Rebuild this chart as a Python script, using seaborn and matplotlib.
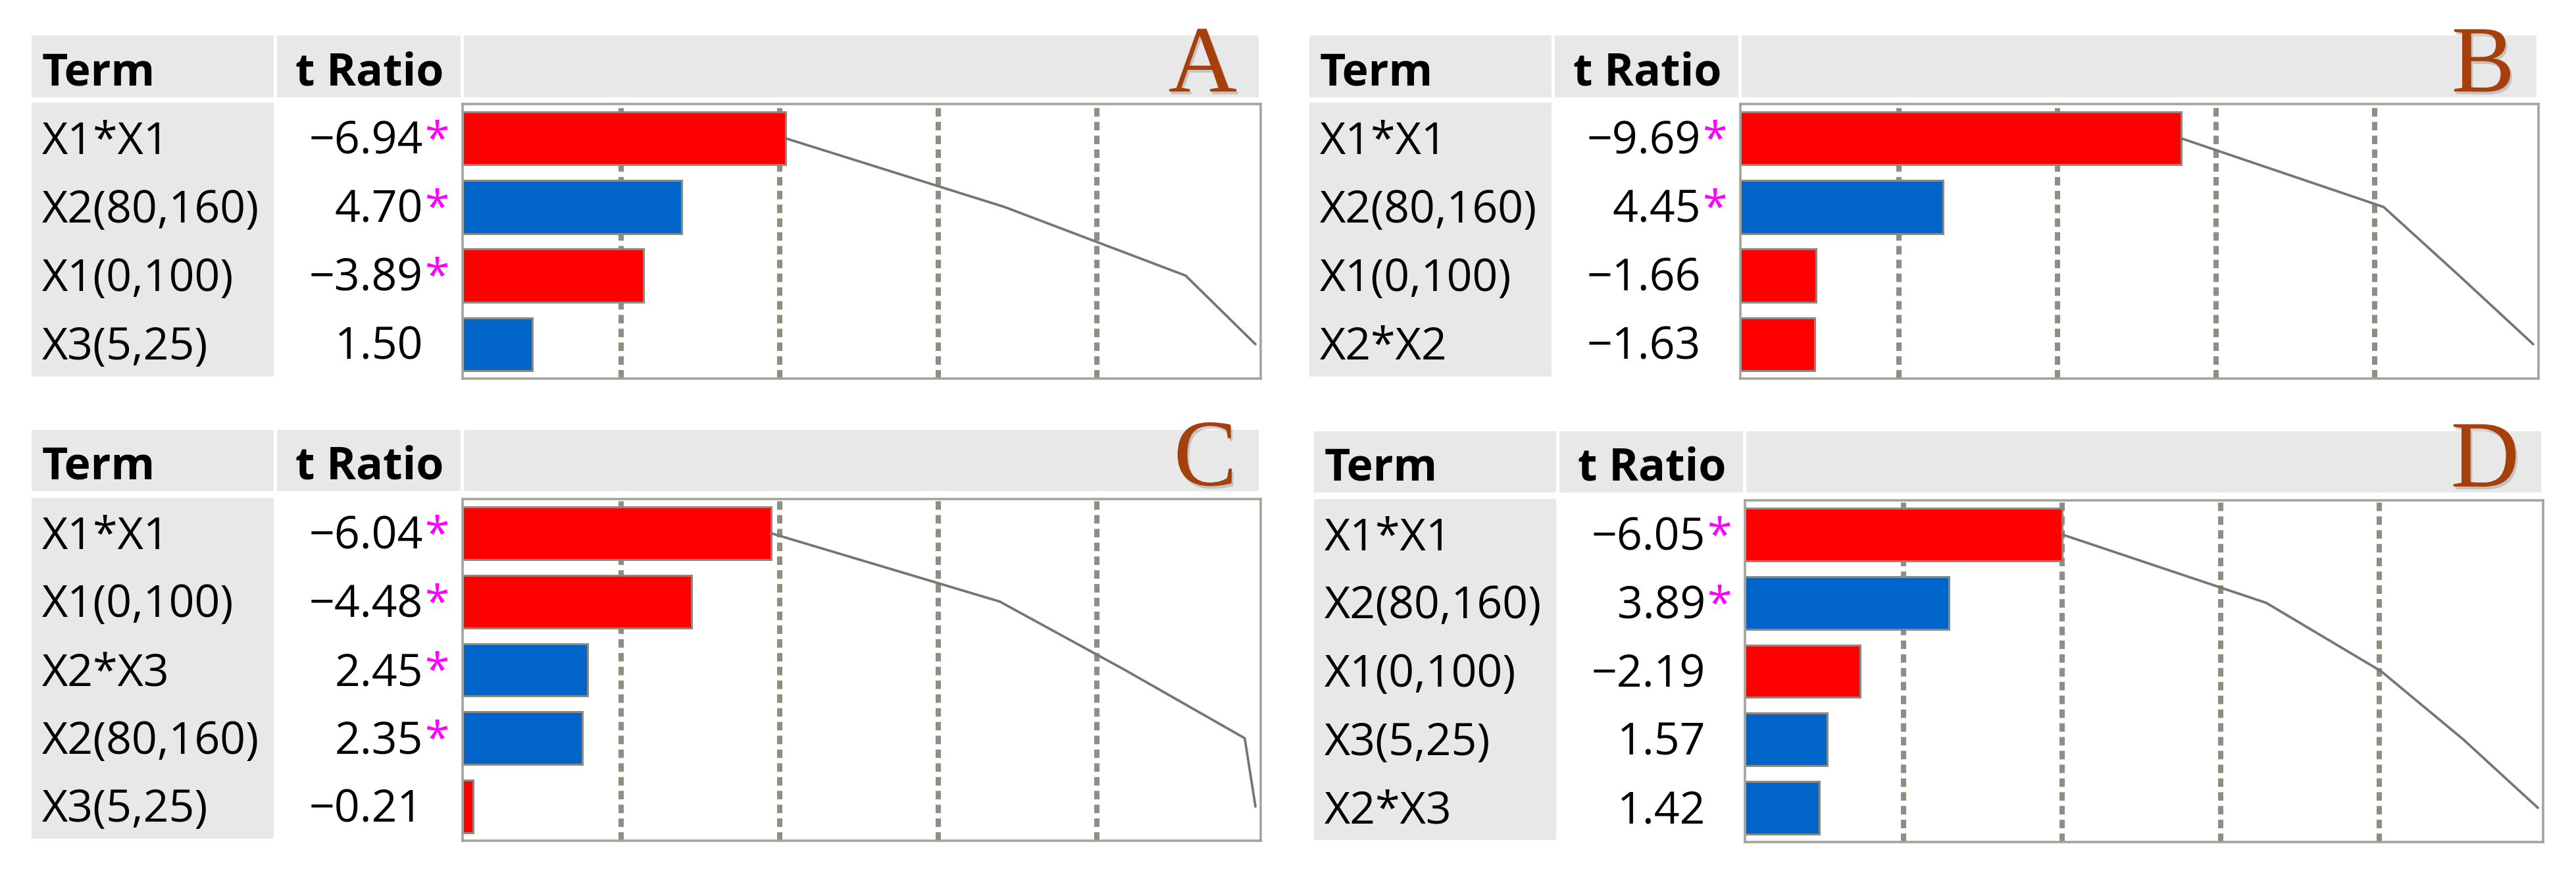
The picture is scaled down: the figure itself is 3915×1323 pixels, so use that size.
import numpy as np
import pandas as pd
import matplotlib
matplotlib.use("Agg")
import matplotlib.pyplot as plt
import matplotlib.patheffects as pe
from matplotlib.patches import Rectangle
import seaborn as sns

# ------------------------------------------------------------
# data: sorted parameter estimates (t ratios) for four models
# ------------------------------------------------------------
terms_a = ["X1*X1", "X2(80,160)", "X1(0,100)", "X3(5,25)"]
t_a = [-6.94, 4.70, -3.89, 1.50]
sig_a = [True, True, True, False]

terms_b = ["X1*X1", "X2(80,160)", "X1(0,100)", "X2*X2"]
t_b = [-9.69, 4.45, -1.66, -1.63]
sig_b = [True, True, False, False]

terms_c = ["X1*X1", "X1(0,100)", "X2*X3", "X2(80,160)", "X3(5,25)"]
t_c = [-6.04, -4.48, 2.45, 2.35, -0.21]
sig_c = [True, True, True, True, False]

terms_d = ["X1*X1", "X2(80,160)", "X1(0,100)", "X3(5,25)", "X2*X3"]
t_d = [-6.05, 3.89, -2.19, 1.57, 1.42]
sig_d = [True, True, False, False, False]

panel_letters = ["A", "B", "C", "D"]
grid_marks = [0.2, 0.4, 0.6, 0.8]

# colours
RED = "#ff0000"
BLUE = "#0064c8"
CELL_GRAY = "#e8e8e8"
GRID_COL = "#8e8f82"
BOX_COL = "#a3a49a"
LINE_COL = "#767676"
LETTER_COL = "#a5400c"

W, H = 3915, 1323

sns.set_style("white")
plt.rcParams["font.family"] = ["Open Sans", "DejaVu Sans"]

fig = plt.figure(figsize=(W / 100, H / 100), dpi=100)

# full-figure canvas in pixel coordinates for the table part
canvas = fig.add_axes([0, 0, 1, 1], zorder=0)
canvas.set_xlim(0, W)
canvas.set_ylim(H, 0)
canvas.axis("off")

# panel geometry (pixels): x offset, header top/bottom, body top, row pitch
layout = [
    dict(dx=0, ht=54, hb=148, bt=156, pitch=104.0),
    dict(dx=1942, ht=54, hb=148, bt=156, pitch=104.0),
    dict(dx=0, ht=653, hb=746, bt=756, pitch=103.6),
    dict(dx=1949, ht=655, hb=748, bt=758, pitch=103.6),
]

panels = [
    (terms_a, t_a, sig_a),
    (terms_b, t_b, sig_b),
    (terms_c, t_c, sig_c),
    (terms_d, t_d, sig_d),
]

FS = 49


def draw_panel(terms, tvals, sig, letter, g):
    dx, ht, hb, bt, pitch = g["dx"], g["ht"], g["hb"], g["bt"], g["pitch"]
    n = len(terms)
    body_bottom = bt + n * pitch

    # header cells
    for x0, x1 in [(48, 416), (421, 700), (705, 1913)]:
        canvas.add_patch(Rectangle((dx + x0, ht), x1 - x0, hb - ht,
                                   facecolor=CELL_GRAY, edgecolor="none"))
    # term column cells
    canvas.add_patch(Rectangle((dx + 48, bt), 416 - 48, body_bottom - bt,
                               facecolor=CELL_GRAY, edgecolor="none"))

    hbase = (ht + hb) / 2 + 28
    canvas.text(dx + 64, hbase, "Term", fontsize=FS, fontweight="bold",
                ha="left", va="baseline", color="black")
    canvas.text(dx + 674, hbase, "t Ratio", fontsize=FS, fontweight="bold",
                ha="right", va="baseline", color="black")

    canvas.text(dx + 1880, hb - 9, letter, fontsize=104,
                family=["Liberation Serif", "DejaVu Serif"],
                color=LETTER_COL, ha="right", va="baseline",
                path_effects=[pe.withSimplePatchShadow(offset=(2, -3),
                                                       shadow_rgbFace="#808080",
                                                       alpha=0.35)])

    for i, (term, tv, s) in enumerate(zip(terms, tvals, sig)):
        base = bt + (i + 0.5) * pitch + 26
        canvas.text(dx + 64, base, term, fontsize=FS, ha="left",
                    va="baseline", color="black")
        label = f"{tv:.2f}".replace("-", "\u2212")
        canvas.text(dx + 643, base, label, fontsize=FS, ha="right",
                    va="baseline", color="black")
        if s:
            canvas.text(dx + 645, base, "*", fontsize=FS, ha="left",
                        va="baseline", color="#ff00ff")

    # bar chart box
    bx0, bx1 = dx + 703, dx + 1916
    by0, by1 = bt + 2, body_bottom + 3
    ax = fig.add_axes([bx0 / W, 1 - by1 / H, (bx1 - bx0) / W, (by1 - by0) / H],
                      zorder=2)
    ax.set_facecolor("white")

    absval = np.abs(np.array(tvals))
    df = pd.DataFrame({
        "pos": np.arange(n),
        "share": absval / absval.sum(),
        "sign": ["neg" if v < 0 else "pos" for v in tvals],
    })
    df["cum"] = df["share"].cumsum()

    for gm in grid_marks:
        ax.axvline(gm, color=GRID_COL, lw=5.8, dashes=(1.6, 1.0),
                   solid_capstyle="butt", dash_capstyle="butt", zorder=1)

    sns.barplot(data=df, x="share", y="pos", hue="sign",
                palette={"neg": RED, "pos": BLUE}, hue_order=["neg", "pos"],
                orient="h", native_scale=True, dodge=False, legend=False,
                saturation=1, width=0.77, edgecolor="#8a8a80", linewidth=2.2,
                ax=ax, zorder=2)
    sns.lineplot(data=df, x="cum", y="pos", sort=False, estimator=None,
                 orient="y", color=LINE_COL, lw=2.7, ax=ax, zorder=3)

    ax.set_xlim(0, 1.0066)
    ax.set_ylim(n - 0.5, -0.5)
    ax.set_xticks([])
    ax.set_yticks([])
    ax.set_xlabel("")
    ax.set_ylabel("")
    for sp in ax.spines.values():
        sp.set_visible(True)
        sp.set_color(BOX_COL)
        sp.set_linewidth(2.6)


for (terms, tvals, sig), letter, g in zip(panels, panel_letters, layout):
    draw_panel(terms, tvals, sig, letter, g)

fig.savefig("out.png", dpi=100, facecolor="white")
